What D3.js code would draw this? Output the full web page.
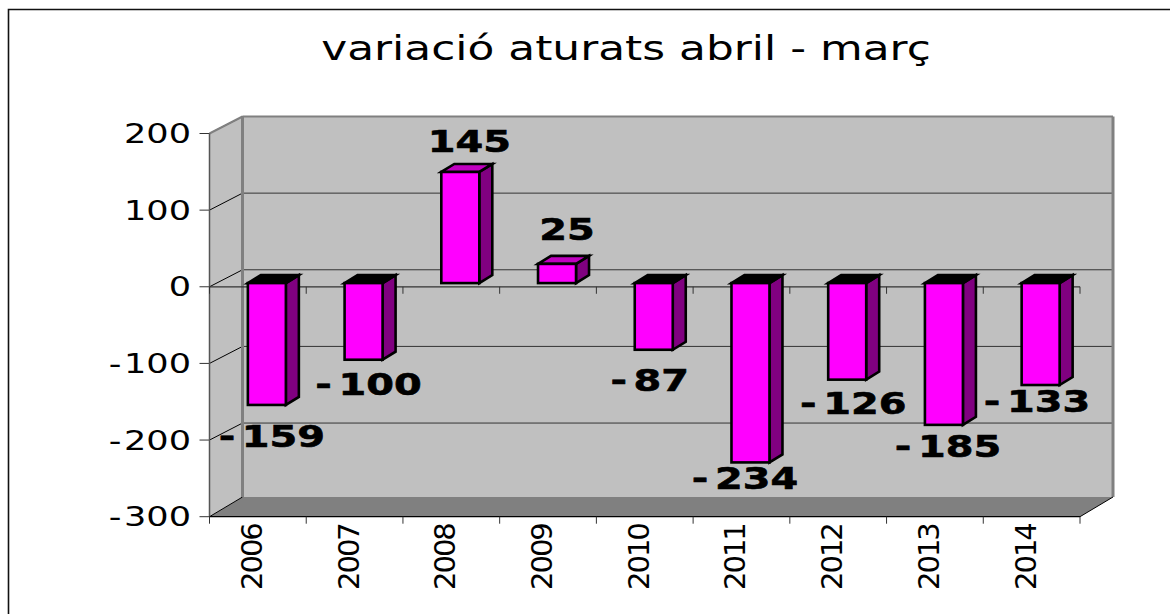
<!DOCTYPE html>
<html><head><meta charset="utf-8">
<script src="https://cdn.jsdelivr.net/npm/d3@7/dist/d3.min.js"></script>
<style>html,body{margin:0;padding:0;background:#fff}svg{display:block}</style></head>
<body><svg id="c" width="1170" height="614"></svg>
<script>
const years = ["2006","2007","2008","2009","2010","2011","2012","2013","2014"];
const values = [-159,-100,145,25,-87,-234,-126,-185,-133];
const yTicks = [200,100,0,-100,-200,-300];
const titleText = "variació aturats abril - març";
// label offsets from each bar's end, in px
const labelDx = [5,5,9,10,-4,-5.5,6,4,-3.6];
const labelDy = [42,35,-20,-24,41,27,34.5,32,27];

const svg = d3.select("#c");
const F = "'DejaVu Sans',Verdana,sans-serif";
const x = d3.scaleBand().domain(years).range([209.5,1080]);
const y = d3.scaleLinear().domain([-300,200]).range([516.7,133.5]);
const wall = {dx:33, dy:-17, floorDy:-19.7};
const barOff = {dx:9, dy:-3.7}, depth = {dx:13, dy:-8}, barW = 38;

const poly = (pts,fill,stroke,sw) => svg.append("polygon").attr("points",pts.map(p=>p.join(",")).join(" "))
  .attr("fill",fill).attr("stroke",stroke||"none").attr("stroke-width",sw||0).attr("stroke-linejoin","miter");

// frame: open on the right, runs past the bottom
svg.append("path").attr("d","M8.5,640L8.5,9.5L1170,9.5").attr("fill","none").attr("stroke","#111").attr("stroke-width",1.6);

const xL=x.range()[0], xR=x.range()[1], yB=y(-300), yT=y(200);
const bL=xL+wall.dx, bR=xR+wall.dx, bT=yT+wall.dy, bB=yB+wall.floorDy;
poly([[xL,yB],[xL,yT],[bL,bT],[bL,bB]],"#c0c0c0");
poly([[bL,bT],[bR,bT],[bR,bB],[bL,bB]],"#c0c0c0");
poly([[xL,yB],[bL,bB],[bR,bB],[xR,yB]],"#808080");
yTicks.forEach(t=>{
  const yy=y(t);
  if(t!==200 && t!==-300) svg.append("line").attr("x1",bL).attr("x2",bR).attr("y1",yy+wall.dy).attr("y2",yy+wall.dy).attr("stroke","#333").attr("stroke-width",1);
  svg.append("line").attr("x1",xL).attr("x2",bL).attr("y1",yy).attr("y2",t===-300?bB:yy+wall.dy).attr("stroke","#000").attr("stroke-width",1);
  svg.append("line").attr("x1",xL-10).attr("x2",xL).attr("y1",yy).attr("y2",yy).attr("stroke","#333").attr("stroke-width",1);
  const tx=svg.append("text").attr("transform",`translate(191,${yy+9.5}) scale(1.3,1)`)
    .attr("font-family",F).attr("font-size",27).attr("text-anchor","end").attr("fill","#000");
  if(t<0){tx.append("tspan").text("-");tx.append("tspan").attr("dx",2).text(Math.abs(t));}
  else tx.text(t);
});
svg.append("path").attr("d",`M${bL},${bT}L${bR},${bT}`).attr("stroke","#808080").attr("stroke-width",2);
svg.append("path").attr("d",`M${xL},${yT}L${bL},${bT}`).attr("stroke","#808080").attr("stroke-width",2);
svg.append("line").attr("x1",bR).attr("x2",bR).attr("y1",bT).attr("y2",bB).attr("stroke","#808080").attr("stroke-width",3);
svg.append("line").attr("x1",bL).attr("x2",bL).attr("y1",bT).attr("y2",bB).attr("stroke","#808080").attr("stroke-width",3);
svg.append("line").attr("x1",xL).attr("x2",xL).attr("y1",yT).attr("y2",yB).attr("stroke","#555").attr("stroke-width",1.5);
svg.append("line").attr("x1",xR).attr("x2",bR).attr("y1",yB).attr("y2",bB).attr("stroke","#000").attr("stroke-width",1);

const y0=y(0);
svg.append("line").attr("x1",xL).attr("x2",xR).attr("y1",y0).attr("y2",y0).attr("stroke","#333").attr("stroke-width",1.2);
svg.append("line").attr("x1",xL).attr("x2",xR).attr("y1",yB).attr("y2",yB).attr("stroke","#000").attr("stroke-width",1.2);
const edges=years.map(d=>x(d)).concat([xR]);
edges.forEach(e=>{
  svg.append("line").attr("x1",e).attr("x2",e).attr("y1",y0).attr("y2",y0+7).attr("stroke","#333");
  svg.append("line").attr("x1",e).attr("x2",e).attr("y1",yB).attr("y2",yB+7).attr("stroke","#333");
});

// bars
years.forEach((yr,i)=>{
  const v=values[i];
  const cx=x(yr)+x.bandwidth()/2+barOff.dx;
  const l=cx-barW/2, r=cx+barW/2;
  const base=y(0)+barOff.dy, end=y(v)+barOff.dy;
  const top=Math.min(base,end), bot=Math.max(base,end);
  const d=depth;
  poly([[r,top],[r+d.dx,top+d.dy],[r+d.dx,bot+d.dy],[r,bot]],"#800080","#000",2.6);
  poly([[l,top],[l+d.dx,top+d.dy],[r+d.dx,top+d.dy],[r,top]],v<0?"#000":"#c000c0","#000",2.6);
  svg.append("rect").attr("x",l).attr("y",top).attr("width",r-l).attr("height",bot-top)
    .attr("fill","#ff00ff").attr("stroke","#000").attr("stroke-width",2.6);
});
// value labels
years.forEach((yr,i)=>{
  const v=values[i];
  const cx=x(yr)+x.bandwidth()/2+barOff.dx+labelDx[i];
  const ly=y(v)+barOff.dy+labelDy[i];
  const tx=svg.append("text").attr("transform",`translate(${cx},${ly}) scale(1.33,1)`)
    .attr("font-family",F).attr("font-size",30).attr("font-weight","bold").attr("text-anchor","middle")
    .attr("fill","#000").attr("stroke","#000").attr("stroke-width",0.6);
  if(v<0){tx.append("tspan").text("-");tx.append("tspan").attr("dx",5).text(Math.abs(v));}
  else tx.text(v);
});
// category labels
years.forEach(yr=>{
  const cx=x(yr)+x.bandwidth()/2;
  svg.append("text").attr("transform",`translate(${cx+4},590) rotate(-90)`)
    .attr("font-family",F).attr("font-size",29).attr("letter-spacing",-2).attr("fill","#000").text(yr);
});
// title
svg.append("text").attr("transform","translate(626,60) scale(1.33,1)")
  .attr("font-family",F).attr("font-size",33).attr("text-anchor","middle").attr("fill","#000").text(titleText);
</script></body></html>
